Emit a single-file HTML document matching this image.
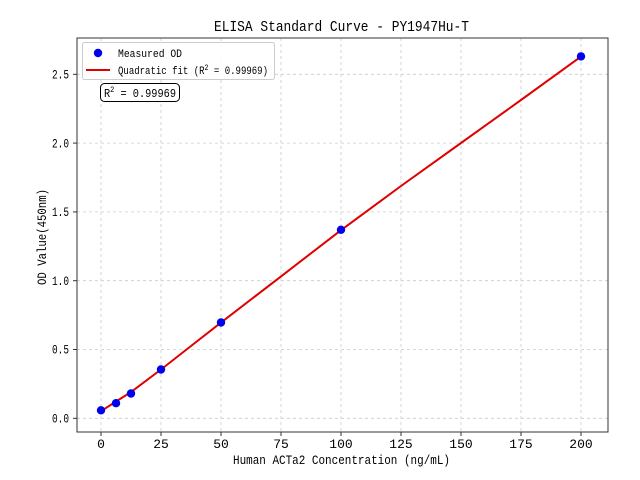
<!DOCTYPE html>
<html><head><meta charset="utf-8"><style>
html,body{margin:0;padding:0;background:#fff;}
svg{display:block;}
text{font-family:"WenQuanYi Zen Hei","Liberation Mono",monospace;fill:#000;}
</style></head><body>
<svg width="640" height="480" viewBox="0 0 640 480" xmlns="http://www.w3.org/2000/svg">
<rect width="640" height="480" fill="#fff"/>
<g stroke="#cccccc" stroke-width="0.8" stroke-dasharray="3,3">
<line x1="101" y1="38" x2="101" y2="432"/><line x1="161" y1="38" x2="161" y2="432"/><line x1="221" y1="38" x2="221" y2="432"/><line x1="281" y1="38" x2="281" y2="432"/><line x1="341" y1="38" x2="341" y2="432"/><line x1="401" y1="38" x2="401" y2="432"/><line x1="461" y1="38" x2="461" y2="432"/><line x1="521" y1="38" x2="521" y2="432"/><line x1="581" y1="38" x2="581" y2="432"/>
<line x1="77" y1="418.3" x2="608" y2="418.3"/><line x1="77" y1="349.5" x2="608" y2="349.5"/><line x1="77" y1="280.7" x2="608" y2="280.7"/><line x1="77" y1="211.9" x2="608" y2="211.9"/><line x1="77" y1="143.1" x2="608" y2="143.1"/><line x1="77" y1="74.3" x2="608" y2="74.3"/>
</g>
<polyline fill="none" stroke="#e00000" stroke-width="2" points="101,411.2 116,401.5 131,392 161,369.5 191,346 221,322.6 281,276.4 341,230.2 401,186 461,143 521,100 581,56.6"/>
<g fill="#0000ee">
<circle cx="101" cy="410.3" r="4.2"/><circle cx="116" cy="403.2" r="4.2"/><circle cx="131" cy="393.5" r="4.2"/><circle cx="161" cy="369.5" r="4.2"/><circle cx="221" cy="322.5" r="4.2"/><circle cx="341" cy="229.8" r="4.2"/><circle cx="581" cy="56.4" r="4.2"/>
</g>
<rect x="77" y="38" width="531" height="394" fill="none" stroke="#333" stroke-width="1"/>
<g stroke="#333" stroke-width="1">
<line x1="101" y1="432" x2="101" y2="436"/><line x1="161" y1="432" x2="161" y2="436"/><line x1="221" y1="432" x2="221" y2="436"/><line x1="281" y1="432" x2="281" y2="436"/><line x1="341" y1="432" x2="341" y2="436"/><line x1="401" y1="432" x2="401" y2="436"/><line x1="461" y1="432" x2="461" y2="436"/><line x1="521" y1="432" x2="521" y2="436"/><line x1="581" y1="432" x2="581" y2="436"/>
<line x1="73" y1="418.3" x2="77" y2="418.3"/><line x1="73" y1="349.5" x2="77" y2="349.5"/><line x1="73" y1="280.7" x2="77" y2="280.7"/><line x1="73" y1="211.9" x2="77" y2="211.9"/><line x1="73" y1="143.1" x2="77" y2="143.1"/><line x1="73" y1="74.3" x2="77" y2="74.3"/>
</g>
<g font-size="13" text-anchor="middle">
<text x="101" y="448">0</text><text x="161" y="448">25</text><text x="221" y="448">50</text><text x="281" y="448">75</text><text x="341" y="448">100</text><text x="401" y="448">125</text><text x="461" y="448">150</text><text x="521" y="448">175</text><text x="581" y="448">200</text>
</g>
<g font-size="13">
<text x="52" y="422.5" textLength="17" lengthAdjust="spacingAndGlyphs">0.0</text><text x="52" y="353.7" textLength="17" lengthAdjust="spacingAndGlyphs">0.5</text><text x="52" y="284.9" textLength="17" lengthAdjust="spacingAndGlyphs">1.0</text><text x="52" y="216.1" textLength="17" lengthAdjust="spacingAndGlyphs">1.5</text><text x="52" y="147.3" textLength="17" lengthAdjust="spacingAndGlyphs">2.0</text><text x="52" y="78.5" textLength="17" lengthAdjust="spacingAndGlyphs">2.5</text>
</g>
<text x="233" y="464" font-size="13" textLength="217" lengthAdjust="spacingAndGlyphs">Human ACTa2 Concentration (ng/mL)</text>
<text transform="translate(46,285) rotate(-90)" font-size="13" textLength="96" lengthAdjust="spacingAndGlyphs">OD Value(450nm)</text>
<text x="214" y="31" font-size="15" textLength="255" lengthAdjust="spacingAndGlyphs">ELISA Standard Curve - PY1947Hu-T</text>
<rect x="82.5" y="42.5" width="192" height="37" rx="2" fill="#fff" fill-opacity="0.85" stroke="#ccc" stroke-width="1"/>
<circle cx="98" cy="53" r="4.2" fill="#0000ee"/>
<line x1="86" y1="70" x2="110" y2="70" stroke="#e00000" stroke-width="2"/>
<text x="118" y="57" font-size="11" textLength="64" lengthAdjust="spacingAndGlyphs">Measured OD</text>
<text x="118" y="74" font-size="11" textLength="150" lengthAdjust="spacingAndGlyphs">Quadratic fit (R<tspan font-size="8" dy="-4">2</tspan><tspan dy="4"> = 0.99969)</tspan></text>
<rect x="100.5" y="83.5" width="79" height="18" rx="4" fill="#fff" stroke="#000" stroke-width="1"/>
<text x="104" y="97" font-size="12" textLength="72" lengthAdjust="spacingAndGlyphs">R<tspan font-size="8" dy="-5">2</tspan><tspan dy="5"> = 0.99969</tspan></text>
</svg>
</body></html>
